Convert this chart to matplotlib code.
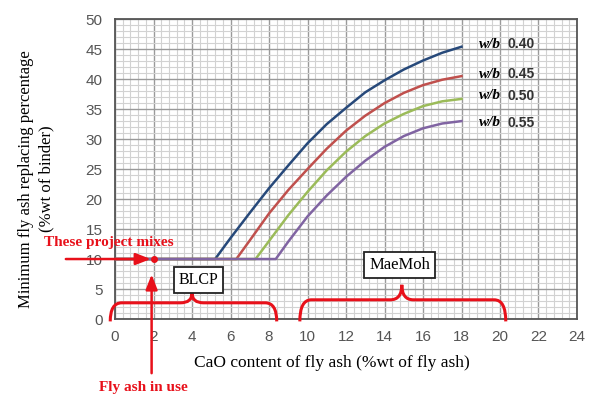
import numpy as np
import matplotlib.pyplot as plt
from matplotlib.path import Path
from matplotlib.patches import PathPatch
from matplotlib.ticker import MultipleLocator

# curves: CaO content (%) -> minimum fly ash (%)
blue_x = [0, 5.2, 6, 7, 8, 9, 10, 11, 12, 13, 14, 15, 16, 17, 18]
blue_y = [10, 10, 13.5, 17.7, 21.8, 25.6, 29.3, 32.5, 35.2, 37.8, 39.8, 41.6, 43.1, 44.4, 45.4]
red_x = [0, 6.3, 7, 8, 9, 10, 11, 12, 13, 14, 15, 16, 17, 18]
red_y = [10, 10, 13.1, 17.6, 21.5, 25.0, 28.4, 31.4, 33.9, 36.0, 37.7, 39.0, 39.9, 40.5]
green_x = [0, 7.3, 8, 9, 10, 11, 12, 13, 14, 15, 16, 17, 18]
green_y = [10, 10, 13.0, 17.3, 21.2, 24.8, 27.9, 30.5, 32.6, 34.2, 35.5, 36.3, 36.7]
purple_x = [0, 8.35, 9, 10, 11, 12, 13, 14, 15, 16, 17, 18]
purple_y = [10, 10, 12.9, 17.1, 20.6, 23.7, 26.4, 28.7, 30.5, 31.8, 32.6, 33.0]

wb_labels = ['0.40', '0.45', '0.50', '0.55']
wb_label_y = [45.8, 40.8, 37.2, 32.7]

fig = plt.figure(figsize=(5.93, 3.99), dpi=100)
ax = fig.add_axes([0.194, 0.2005, 0.779, 0.7515])

ax.set_xlim(0, 24)
ax.set_ylim(0, 50)
ax.xaxis.set_major_locator(MultipleLocator(2))
ax.yaxis.set_major_locator(MultipleLocator(5))
ax.xaxis.set_minor_locator(MultipleLocator(0.4))
ax.yaxis.set_minor_locator(MultipleLocator(1))
ax.grid(which='major', color='#9a9a9a', lw=1.0)
ax.grid(which='minor', color='#d2d2d2', lw=0.8)
ax.set_axisbelow(True)
ax.tick_params(which='both', length=0, labelsize=11, labelcolor='#555555')
ax.tick_params(axis='x', pad=8)
ax.tick_params(axis='y', pad=9)
for lab in ax.get_xticklabels() + ax.get_yticklabels():
    lab.set_family('Liberation Sans')
for s in ax.spines.values():
    s.set_color('#555555')
    s.set_linewidth(1.3)

colors = ['#27497a', '#c0504d', '#9bbb59', '#8064a2']
for xs, ys, c in zip([blue_x, red_x, green_x, purple_x],
                     [blue_y, red_y, green_y, purple_y], colors):
    ax.plot(xs, ys, color=c, lw=1.8, zorder=3)

for lab, yy in zip(wb_labels, wb_label_y):
    ax.text(18.9, yy, 'w/b', family='Liberation Serif', style='italic',
            weight='bold', fontsize=11, va='center', clip_on=False)
    ax.text(20.4, yy, lab, family='Liberation Sans', weight='bold',
            fontsize=10, va='center', color='#333333', clip_on=False)

ax.set_xlabel('CaO content of fly ash (%wt of fly ash)', family='Liberation Serif',
              fontsize=12.5)
ax.xaxis.set_label_coords(0.47, -0.12)
ax.set_ylabel('Minimum fly ash replacing percentage\n(%wt of binder)',
              family='Liberation Serif', fontsize=12, linespacing=1.3)
ax.yaxis.set_label_coords(-0.132, 0.467)

red = '#e8101a'


def brace(x0, x1, xm, yb, yh, yt, r):
    verts = [(x0, yb), (x0, yh), (x0 + r, yh),
             (xm - r, yh), (xm, yh), (xm, yt),
             (xm, yh), (xm + r, yh),
             (x1 - r, yh), (x1, yh), (x1, yb)]
    codes = [Path.MOVETO, Path.CURVE3, Path.CURVE3,
             Path.LINETO, Path.CURVE3, Path.CURVE3,
             Path.CURVE3, Path.CURVE3,
             Path.LINETO, Path.CURVE3, Path.CURVE3]
    ax.add_patch(PathPatch(Path(verts, codes), fill=False, ec=red, lw=2.2,
                           clip_on=False, zorder=4))


brace(-0.25, 8.4, 4.0, -0.4, 2.7, 4.3, 0.6)
brace(9.6, 20.3, 14.9, -0.4, 3.2, 5.7, 0.6)

ax.text(4.35, 6.5, 'BLCP', family='Liberation Serif', fontsize=11.5, ha='center',
        va='center', zorder=5,
        bbox=dict(boxstyle='square,pad=0.3', fc='white', ec='#222222', lw=1.3))
ax.text(14.8, 9.0, 'MaeMoh', family='Liberation Serif', fontsize=12, ha='center',
        va='center', zorder=5,
        bbox=dict(boxstyle='square,pad=0.3', fc='white', ec='#222222', lw=1.3))

# annotations for the project mixes
ax.plot([2], [10], 'o', color=red, ms=4, zorder=6)
ax.annotate('', xy=(2.0, 10), xytext=(-2.7, 10), annotation_clip=False,
            arrowprops=dict(arrowstyle='-|>,head_length=0.9,head_width=0.35',
                            color=red, lw=1.8), zorder=6)
ax.annotate('', xy=(1.9, 7.9), xytext=(1.9, -9.5), annotation_clip=False,
            arrowprops=dict(arrowstyle='-|>,head_length=0.9,head_width=0.35',
                            color=red, lw=1.8), zorder=6)
ax.text(-0.3, 12.7, 'These project mixes', family='Liberation Serif',
        weight='bold', fontsize=11, color=red, ha='center', va='center',
        clip_on=False)
ax.text(1.45, -11.4, 'Fly ash in use', family='Liberation Serif',
        weight='bold', fontsize=11, color=red, ha='center', va='center',
        clip_on=False)

fig.savefig('out.png', dpi=100)
